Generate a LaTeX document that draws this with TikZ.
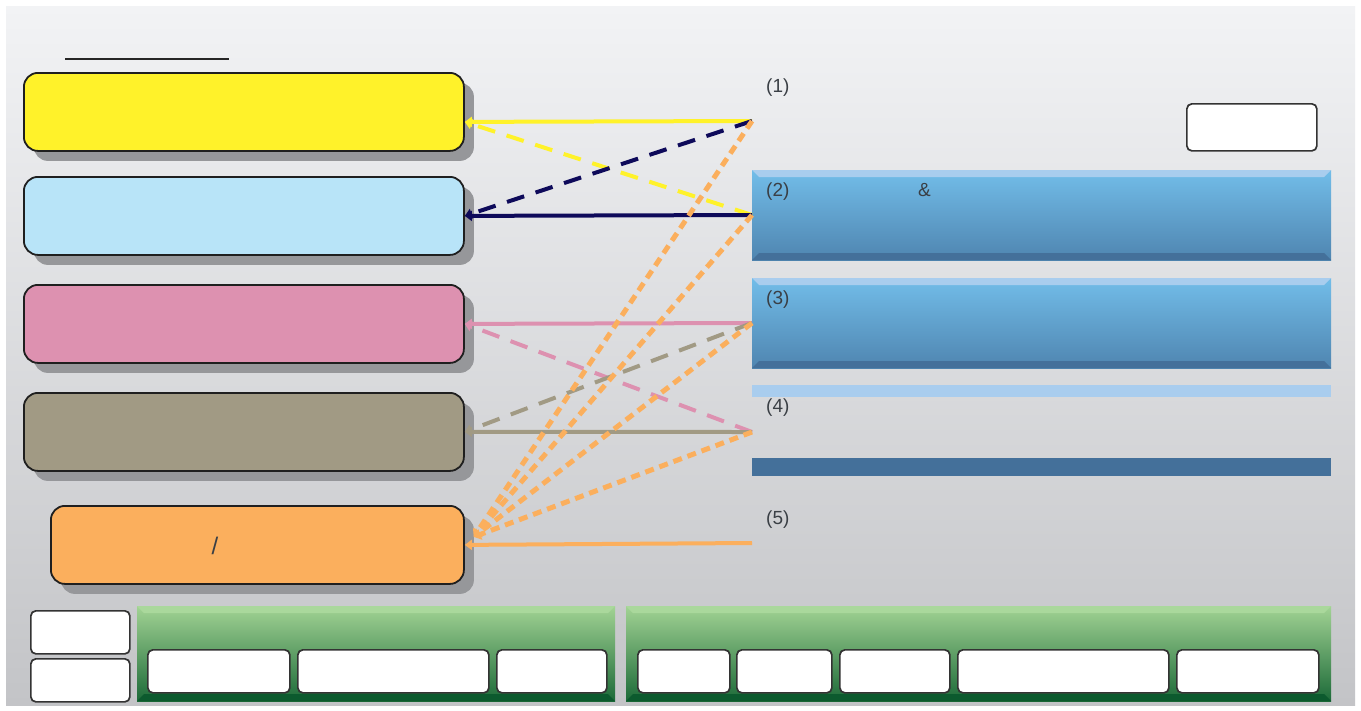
\documentclass[tikz,border=0pt]{standalone}
\usepackage{fontspec}
\setmainfont{Liberation Sans}
\usetikzlibrary{shadows,arrows.meta}
\definecolor{bgtop}{HTML}{F2F3F5}
\definecolor{bgbot}{HTML}{C3C4C7}
\definecolor{shadowc}{HTML}{96979A}
\definecolor{yel}{HTML}{FFF22A}
\definecolor{lblue}{HTML}{B8E4F8}
\definecolor{pinkc}{HTML}{DD91B0}
\definecolor{khaki}{HTML}{A19A84}
\definecolor{orangec}{HTML}{FBAF5D}
\definecolor{navy}{HTML}{0E0A5A}
\definecolor{bevlight}{HTML}{A9CDEE}
\definecolor{bodytop}{HTML}{72BDE9}
\definecolor{bodybot}{HTML}{4F85B0}
\definecolor{bevdark}{HTML}{44709A}
\definecolor{glight}{HTML}{AAD89C}
\definecolor{gtop}{HTML}{A2D394}
\definecolor{gbot}{HTML}{1C6A38}
\definecolor{gdark}{HTML}{0C5A2E}
\definecolor{txt}{HTML}{3A3F45}
\newcommand{\bevbox}[8]{%
  \shade[top color=#6,bottom color=#7] (#1,#2) rectangle (#3,#4);
  \fill[#5] (#1,#2) -- (#3,#2) -- ({#3-7},{#2+7}) -- ({#1+7},{#2+7}) -- cycle;
  \fill[#8] (#1,#4) -- (#3,#4) -- ({#3-7},{#4-7}) -- ({#1+7},{#4-7}) -- cycle;
}
\tikzset{
  leftbox/.style={draw=black!88, line width=1.8pt, rounded corners=14pt,
    minimum height=78pt, anchor=north west, inner sep=0pt,
    general shadow={fill=shadowc, shadow xshift=10pt, shadow yshift=-10pt}},
  whitebox/.style={draw=black!80, line width=1.7pt, rounded corners=5pt,
    fill=white, anchor=north west, inner sep=0pt},
  solidcon/.style={line width=4pt, -{Triangle[length=7pt,width=10pt]}},
  dashcon/.style={line width=4pt, dash pattern=on 18pt off 12pt, -{Triangle[length=7pt,width=10pt]}},
  dotcon/.style={line width=5pt, orangec, dash pattern=on 9pt off 6pt, -{Triangle[length=7pt,width=11pt]}},
  lab/.style={font=\fontsize{19}{21}\selectfont, text=txt, anchor=west, inner sep=0pt},
}
\begin{document}
\begin{tikzpicture}[x=1pt,y=-1pt]
\useasboundingbox (0,0) rectangle (1361,710);
\fill[white] (0,0) rectangle (1361,710);
\shade[top color=bgtop, bottom color=bgbot] (6,6) rectangle (1355,705);
% title rule
\draw[black!85, line width=1.2pt] (65,59) -- (229,59);
% left boxes
\node[leftbox, fill=yel, minimum width=440pt] (b1) at (23,72) {};
\node[leftbox, fill=lblue, minimum width=440pt] (b2) at (23,176) {};
\node[leftbox, fill=pinkc, minimum width=440pt] (b3) at (23,284) {};
\node[leftbox, fill=khaki, minimum width=440pt] (b4) at (23,392) {};
\node[leftbox, fill=orangec, minimum width=413pt] (b5) at (50,505) {};
\node[lab, anchor=center, font=\fontsize{24}{26}\selectfont] (slash) at (215,546) {/};
% right panels
\node[whitebox, minimum width=130pt, minimum height=47pt] (w1) at (1186,103) {};
\bevbox{752}{170}{1331}{260}{bevlight}{bodytop}{bodybot}{bevdark}
\bevbox{752}{278}{1331}{368}{bevlight}{bodytop}{bodybot}{bevdark}
\fill[bevlight] (752,385) rectangle (1331,397);
\fill[bevdark] (752,458) rectangle (1331,476);
\node[lab] (t1) at (766,88) {(1)};
\node[lab] (t2) at (766,192) {(2)};
\node[lab] (amp) at (918,190) {\&};
\node[lab] (t3) at (766,300) {(3)};
\node[lab] (t4) at (766,408) {(4)};
\node[lab] (t5) at (766,520) {(5)};
% connector end points on the right
\coordinate (r1) at (752,121);
\coordinate (r2) at (752,215);
\coordinate (r3) at (752,323);
\coordinate (r4) at (752,432);
\coordinate (r5) at (752,543);
\coordinate (l1) at ([yshift=-10pt]b1.east);
\coordinate (o5) at ([xshift=9pt,yshift=8pt]b5.east);
% connectors
\draw[solidcon, yel] (r1) -- (l1);
\draw[dashcon, yel] (r2) -- (l1);
\draw[solidcon, navy] (r2) -- (b2.east);
\draw[dashcon, navy] (r1) -- (b2.east);
\draw[solidcon, pinkc] (r3) -- (b3.east);
\draw[dashcon, pinkc] (r4) -- (b3.east);
\draw[solidcon, khaki] (r4) -- (b4.east);
\draw[dashcon, khaki] (r3) -- (b4.east);
\draw[solidcon, orangec] (r5) -- (b5.east);
\draw[dotcon] (r1) -- (o5);
\draw[dotcon] (r2) -- (o5);
\draw[dotcon] (r3) -- (o5);
\draw[dotcon] (r4) -- (o5);
% bottom
\node[whitebox, minimum width=99pt, minimum height=43pt] (s1) at (30,610) {};
\node[whitebox, minimum width=99pt, minimum height=43pt] (s2) at (30,658) {};
\bevbox{137}{606}{615}{701}{glight}{gtop}{gbot}{gdark}
\bevbox{626}{606}{1331}{701}{glight}{gtop}{gbot}{gdark}
\node[whitebox, minimum width=142pt, minimum height=43pt] (g1) at (147,649) {};
\node[whitebox, minimum width=191pt, minimum height=43pt] (g2) at (297,649) {};
\node[whitebox, minimum width=110pt, minimum height=43pt] (g3) at (496,649) {};
\node[whitebox, minimum width=92pt, minimum height=43pt] (h1) at (637,649) {};
\node[whitebox, minimum width=95pt, minimum height=43pt] (h2) at (736,649) {};
\node[whitebox, minimum width=110pt, minimum height=43pt] (h3) at (839,649) {};
\node[whitebox, minimum width=211pt, minimum height=43pt] (h4) at (957,649) {};
\node[whitebox, minimum width=142pt, minimum height=43pt] (h5) at (1176,649) {};
\end{tikzpicture}
\end{document}
